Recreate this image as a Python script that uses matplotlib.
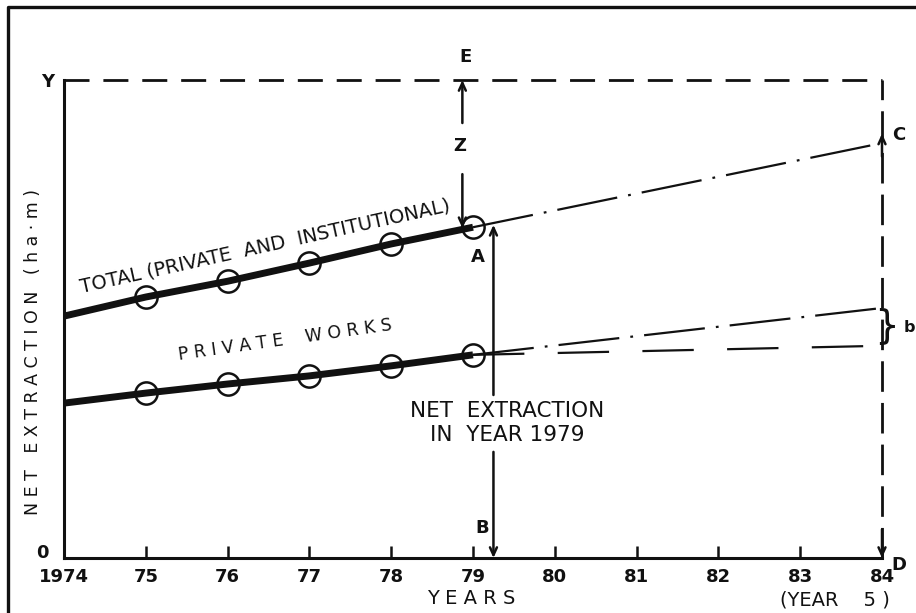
import matplotlib

matplotlib.use("Agg")

import matplotlib.pyplot as plt
from matplotlib.lines import Line2D

plt.rcParams["font.family"] = ["DejaVu Sans"]
plt.rcParams["lines.scale_dashes"] = False

# observed years (1974 is the start of the line, no circle there)
years = [1974, 1975, 1976, 1977, 1978, 1979]
total = [50.6, 54.6, 57.9, 61.7, 65.7, 69.2]
private = [32.4, 34.5, 36.4, 38.1, 40.2, 42.5]

# projection to year 5
proj_years = [1979, 1984]
total_proj = [69.2, 86.8]
private_high = [42.5, 52.3]
private_low = [42.5, 44.4]

tick_years = list(range(1974, 1985))
tick_labels = ["1974", "75", "76", "77", "78", "79", "80", "81", "82", "83", "84"]

y_level = 100.0  # the "Y" line
year_1979_x = 1979.25
z_x = 1978.87

INK = "#111111"

fig = plt.figure(figsize=(9.16, 6.13), dpi=100)
W, H = 916, 613
ax = fig.add_axes([64 / W, (H - 558) / H, 818 / W, 478 / H])
ax.set_xlim(1974, 1984)
ax.set_ylim(0, 100)

for side in ["top", "right"]:
    ax.spines[side].set_visible(False)
for side in ["left", "bottom"]:
    ax.spines[side].set_linewidth(2.2)
    ax.spines[side].set_color(INK)

ax.set_yticks([])
ax.set_xticks(tick_years)
ax.set_xticklabels(tick_labels, fontsize=13, fontweight="bold", color=INK)
ax.tick_params(axis="x", direction="in", length=9, width=1.8, pad=7, color=INK)

# outer frame (top and left edge of the plate)
fig.add_artist(Line2D([8 / W, 8 / W, 1.0], [0.0, 1 - 7 / H, 1 - 7 / H],
                      color=INK, linewidth=2.4))

# Y level and year-5 vertical (dashed)
ax.plot([1974, 1984], [y_level, y_level], color=INK, linewidth=2.0,
        dashes=(18, 10), clip_on=False)
ax.plot([1984, 1984], [0, y_level], color=INK, linewidth=2.0,
        dashes=(22, 8), clip_on=False)

# observed lines
ax.plot(years, total, color=INK, linewidth=5, solid_capstyle="butt",
        marker="o", markevery=slice(1, None), markersize=16,
        markerfacecolor="none", markeredgewidth=1.8, markeredgecolor=INK)
ax.plot(years, private, color=INK, linewidth=5, solid_capstyle="butt",
        marker="o", markevery=slice(1, None), markersize=16,
        markerfacecolor="none", markeredgewidth=1.8, markeredgecolor=INK)

# projections
ax.plot(proj_years, total_proj, color=INK, linewidth=1.6,
        dashes=(44, 8, 2, 8), clip_on=False)
ax.plot(proj_years, private_high, color=INK, linewidth=1.6,
        dashes=(44, 8, 2, 8), clip_on=False)
ax.plot(proj_years, private_low, color=INK, linewidth=1.6,
        dashes=(37, 24), clip_on=False)

arrow = dict(arrowstyle="->,head_length=0.55,head_width=0.25", color=INK,
             linewidth=1.8, shrinkA=0, shrinkB=0)

# net extraction in 1979 (A-B), with a gap for the text
ax.annotate("", xy=(year_1979_x, 69.7), xytext=(year_1979_x, 34.1),
            arrowprops=arrow, annotation_clip=False)
ax.annotate("", xy=(year_1979_x, 0), xytext=(year_1979_x, 22.2),
            arrowprops=arrow, annotation_clip=False)

# Z dimension
ax.annotate("", xy=(z_x, y_level), xytext=(z_x, 91.0),
            arrowprops=arrow, annotation_clip=False)
ax.annotate("", xy=(z_x, 69.0), xytext=(z_x, 80.3),
            arrowprops=arrow, annotation_clip=False)

# C and D arrows on the year-5 line
ax.annotate("", xy=(1984, 88.8), xytext=(1984, 84.0),
            arrowprops=arrow, annotation_clip=False)
ax.annotate("", xy=(1984, 0), xytext=(1984, 6.0),
            arrowprops=arrow, annotation_clip=False)

lab = dict(fontsize=13, fontweight="bold", color=INK, ha="center",
           va="center", clip_on=False)
ax.text(1973.80, 99.6, "Y", **lab)
ax.text(1973.74, 1.0, "0", **lab)
ax.text(1978.91, 104.8, "E", **lab)
ax.text(1978.84, 86.2, "Z", **lab)
ax.text(1979.06, 63.0, "A", **lab)
ax.text(1979.11, 6.3, "B", **lab)
ax.text(1984.21, 88.5, "C", **lab)
ax.text(1984.21, -1.5, "D", **lab)
ax.text(1984.33, 48.3, "b", fontsize=11.5, fontweight="bold", color=INK,
        ha="center", va="center", clip_on=False)
ax.text(1984.06, 48.6, "}", fontsize=28, color=INK, ha="center",
        va="center", clip_on=False)

txt = dict(color=INK, ha="center", va="center", clip_on=False)
ax.text(1976.46, 65.3, "TOTAL (PRIVATE  AND  INSTITUTIONAL)", fontsize=14,
        rotation=12.5, rotation_mode="anchor", **txt)
ax.text(1976.70, 45.6, "P R I V A T E    W O R K S", fontsize=12.5,
        rotation=8, rotation_mode="anchor", **txt)
ax.text(1979.42, 28.2, "NET  EXTRACTION\nIN  YEAR 1979", fontsize=15.5,
        linespacing=1.25, **txt)
ax.text(1978.98, -8.4, "Y E A R S", fontsize=14, **txt)
ax.text(1983.43, -8.8, "(YEAR    5 )", fontsize=14, **txt)

fig.text(33 / W, 1 - 352 / H, "N E T   E X T R A C T I O N   ( h a · m )",
         fontsize=12.5, rotation=90, color=INK, ha="center", va="center")

fig.savefig("out.png", dpi=100, facecolor="white")
